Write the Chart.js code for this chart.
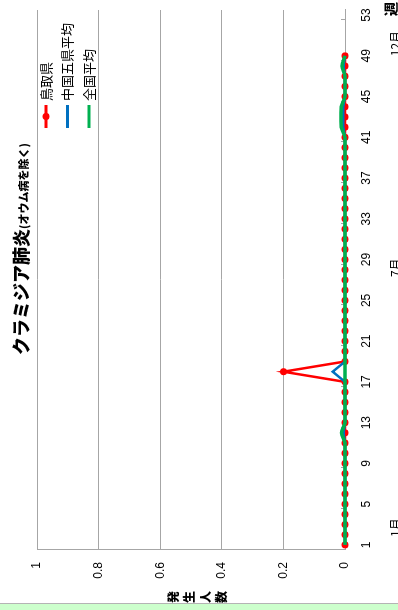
<!DOCTYPE html>
<html lang="ja">
<head>
<meta charset="utf-8">
<script src="https://cdn.jsdelivr.net/npm/chart.js@4.4.1/dist/chart.umd.min.js"></script>
<style>
  html, body { margin: 0; padding: 0; background: #fff; }
  body { width: 398px; height: 610px; overflow: hidden; position: relative; }
  /* the chart is drawn landscape and turned a quarter turn to the left */
  #chart-wrap {
    position: absolute; left: 0; top: 0;
    width: 610px; height: 398px;
    transform-origin: 0 0;
    transform: translate(0, 610px) rotate(-90deg);
  }
  #footer-strip {
    position: absolute; left: 0; top: 603px; width: 398px; height: 7px;
    background: #ccffcc; border-top: 1px solid #b4b4b4;
  }
</style>
</head>
<body>
<div id="chart-wrap"><canvas id="chart" width="610" height="398"></canvas></div>
<div id="footer-strip"></div>
<script>
// クラミジア肺炎 — weekly cases per sentinel, weeks 1-49

const weeks = ['1','2','3','4','5','6','7','8','9','10','11','12','13','14','15','16','17','18',
    '19','20','21','22','23','24','25','26','27','28','29','30','31','32','33','34','35','36',
    '37','38','39','40','41','42','43','44','45','46','47','48','49','50','51','52','53'];

const tottori = [0,0,0,0,0,0,0,0,0,0,0,0,0,0,0,0,0,0.2,
    0,0,0,0,0,0,0,0,0,0,0,0,0,0,0,0,0,0,
    0,0,0,0,0,0,0,0,0,0,0,0,0];
const chugoku = [0,0,0,0,0,0,0,0,0,0,0,0.005,0,0,0,0,0,0.04,
    0,0,0,0,0,0,0,0,0,0,0,0,0,0,0,0,0,0,
    0,0,0,0,0,0.006,0.006,0.006,0,0,0,0.005,0];
const zenkoku = [0,0,0,0,0,0,0,0,0,0,0,0.011,0,0,0,0,0,0,
    0,0,0,0,0,0,0,0,0,0,0,0,0,0,0,0,0,0,
    0,0,0,0,0,0.012,0.013,0.012,0,0,0,0.01,0];

const seriesNames = ['鳥取県', '中国五県平均', '全国平均'];
const yTicks = [0, 0.2, 0.4, 0.6, 0.8, 1];
const monthLabels = ['1月', '7月', '12月'];
const monthWeeks = [2.7, 28.2, 50.2];

const TITLE = 'クラミジア肺炎';
const SUBTITLE = '(オウム病を除く)';
const Y_TITLE = '発生人数';
const X_UNIT = '週';

const RED = '#ff0000';
const BLUE = '#0070c0';
const GREEN = '#00b050';
const GRID = '#a6a6a6';
const FONT = "'Liberation Sans', 'Noto Sans CJK JP', sans-serif";
const JP = "'Noto Sans CJK JP', sans-serif";

const colors = [RED, BLUE, GREEN];

const decorPlugin = {
    id: 'decor',
    beforeDatasetsDraw(chart) {
        // small tick marks between every 4th week, pointing into the plot
        const { ctx, chartArea } = chart;
        const x = chart.scales.x;
        ctx.save();
        ctx.strokeStyle = GRID;
        ctx.lineWidth = 1;
        for (let i = 3.5; i < weeks.length; i += 4) {
            const px = Math.round(x.getPixelForValue(i)) + 0.5;
            ctx.beginPath();
            ctx.moveTo(px, chartArea.bottom);
            ctx.lineTo(px, chartArea.bottom - 4);
            ctx.stroke();
        }
        ctx.restore();
    },
    afterDraw(chart) {
        const { ctx } = chart;
        const x = chart.scales.x;
        ctx.save();
        ctx.fillStyle = '#000';

        // title
        ctx.textBaseline = 'alphabetic';
        ctx.font = '900 18px ' + JP;
        const w1 = ctx.measureText(TITLE).width;
        ctx.font = '900 11px ' + JP;
        const w2 = ctx.measureText(SUBTITLE).width;
        let tx = 361 - (w1 + w2) / 2;
        ctx.font = '900 18px ' + JP;
        ctx.textAlign = 'left';
        ctx.fillText(TITLE, tx, 28);
        ctx.font = '900 11px ' + JP;
        ctx.fillText(SUBTITLE, tx + w1, 28);

        // legend
        ctx.font = '13px ' + JP;
        ctx.textBaseline = 'middle';
        seriesNames.forEach((name, i) => {
            const ly = 46 + i * 21.5;
            ctx.strokeStyle = colors[i];
            ctx.lineWidth = 3;
            ctx.beginPath();
            ctx.moveTo(482, ly);
            ctx.lineTo(505, ly);
            ctx.stroke();
            if (i === 0) {
                ctx.fillStyle = RED;
                ctx.beginPath();
                ctx.arc(493.5, ly, 3.5, 0, Math.PI * 2);
                ctx.fill();
            }
            ctx.fillStyle = '#000';
            ctx.fillText(name, 509, ly);
        });

        // y title, one character under the other
        ctx.font = '900 12px ' + JP;
        ctx.textAlign = 'center';
        Array.from(Y_TITLE).forEach((ch, i) => {
            ctx.fillText(ch, 13, 173 + i * 16);
        });

        // month labels and unit under the week axis (cut by the lower edge)
        ctx.font = '12px ' + JP;
        ctx.textBaseline = 'top';
        monthLabels.forEach((m, i) => {
            ctx.fillText(m, x.getPixelForValue(monthWeeks[i] - 1), 389);
        });
        ctx.font = '900 14px ' + JP;
        ctx.fillText(X_UNIT, 601, 384);
        ctx.restore();
    }
};

new Chart(document.getElementById('chart'), {
    type: 'line',
    data: {
        labels: weeks,
        datasets: [
            {
                label: seriesNames[0],
                data: tottori,
                borderColor: RED,
                backgroundColor: RED,
                borderWidth: 2.5,
                pointRadius: 3.5,
                pointBorderWidth: 0,
                pointBackgroundColor: RED,
                tension: 0,
                clip: false,
                order: 3,
            },
            {
                label: seriesNames[1],
                data: chugoku,
                borderColor: BLUE,
                borderWidth: 2.5,
                pointRadius: 0,
                tension: 0,
                clip: false,
                order: 2,
            },
            {
                label: seriesNames[2],
                data: zenkoku,
                borderColor: GREEN,
                borderWidth: 3.5,
                pointRadius: 0,
                tension: 0.3,
                clip: false,
                order: 1,
            },
        ]
    },
    options: {
        responsive: false,
        animation: false,
        layout: { padding: { top: 37, right: 10, left: 0, bottom: 0 } },
        plugins: {
            legend: { display: false },
            tooltip: { enabled: false },
        },
        scales: {
            x: {
                type: 'category',
                offset: true,
                grid: { display: false },
                border: { color: GRID, width: 1 },
                ticks: {
                    autoSkip: false,
                    maxRotation: 0,
                    padding: 6,
                    color: '#000',
                    font: { family: FONT, size: 12 },
                    callback: (val, idx) => (idx % 4 === 0 ? weeks[idx] : ''),
                },
                afterFit: (scale) => { scale.height = 53; },
            },
            y: {
                min: 0,
                max: 1,
                afterBuildTicks: (scale) => { scale.ticks = yTicks.map(v => ({ value: v })); },
                grid: { color: GRID, drawTicks: false },
                border: { color: GRID, width: 1 },
                ticks: {
                    padding: 12,
                    color: '#000',
                    font: { family: FONT, size: 12 },
                    callback: (v) => String(Number(v.toFixed(1))),
                },
                afterFit: (scale) => { scale.width = 60; },
            }
        }
    },
    plugins: [decorPlugin]
});
</script>
</body>
</html>
